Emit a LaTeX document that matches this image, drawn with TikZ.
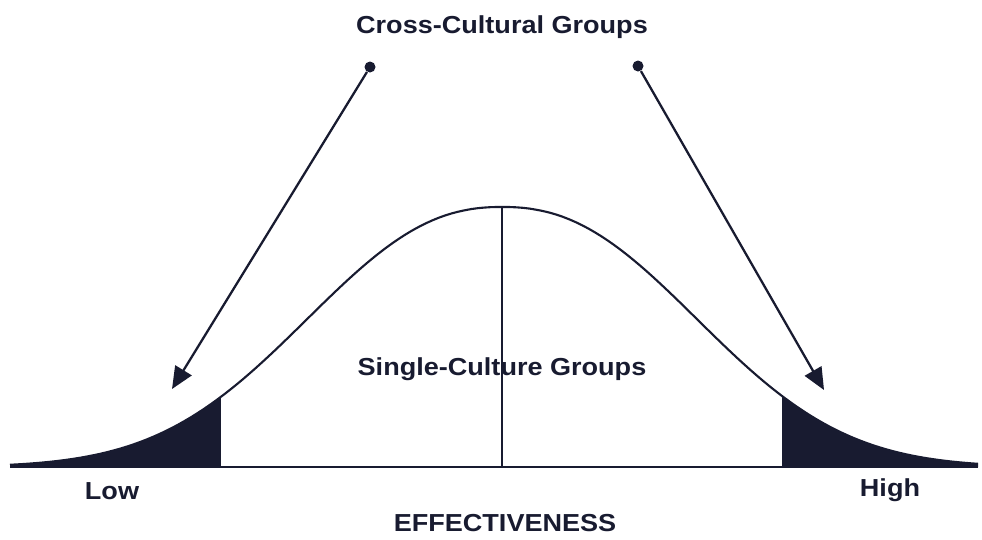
\documentclass[tikz,border=0pt]{standalone}
\usepackage{fontspec}
\setmainfont{Liberation Sans}[FakeStretch=1.1]
\usetikzlibrary{arrows.meta, positioning}
\definecolor{ink}{RGB}{24,27,48}

\begin{document}
\begin{tikzpicture}[x=0.02cm, y=-0.02cm,
    declare function={bell(\x)=467-260*exp(-((abs(\x-502)+0.01)/250)^2.3);},
    curve/.style={line width=1.2pt, draw=ink},
    pointer/.style={line width=1.3pt, draw=ink, fill=ink, -{Triangle[length=0.44cm, width=0.38cm]}},
    dot/.style={circle, fill=ink, inner sep=0pt, minimum size=0.22cm},
    label/.style={text=ink, anchor=base, font=\bfseries\fontsize{14}{17}\selectfont}]
  \useasboundingbox (0,0) rectangle (982,539);

  % shaded tails
  \fill[ink] (10,467) -- plot[domain=10:220, samples=40] (\x,{bell(\x)}) -- (220,467) -- cycle;
  \fill[ink] (783,467) -- plot[domain=783:978, samples=40] (\x,{bell(\x)}) -- (978,467) -- cycle;

  % the curve and its base
  \draw[curve] plot[domain=10:978, samples=150] (\x,{bell(\x)});
  \draw[curve] (10,467) -- (978,467);
  \draw[curve] (220,467) -- (220,{bell(220)});
  \draw[curve] (502,467) -- (502,{bell(502)});
  \draw[curve] (783,467) -- (783,{bell(783)});

  % labels
  \node[label] (cross) at (502,33) {Cross-Cultural Groups};
  \node[label] (single) at (502,375) {Single-Culture Groups};
  \node[label] (low) at (112,499) {Low};
  \node[label] (high) at (890,496) {High};
  \node[label] (effect) at (505,531) {EFFECTIVENESS};

  % pointers
  \node[dot] (dotL) at (370,67) {};
  \node[dot] (dotR) at (638,66) {};
  \coordinate (tipL) at (172,389);
  \coordinate (tipR) at (824,390);
  \draw[pointer] (dotL) -- (tipL);
  \draw[pointer] (dotR) -- (tipR);
\end{tikzpicture}
\end{document}
